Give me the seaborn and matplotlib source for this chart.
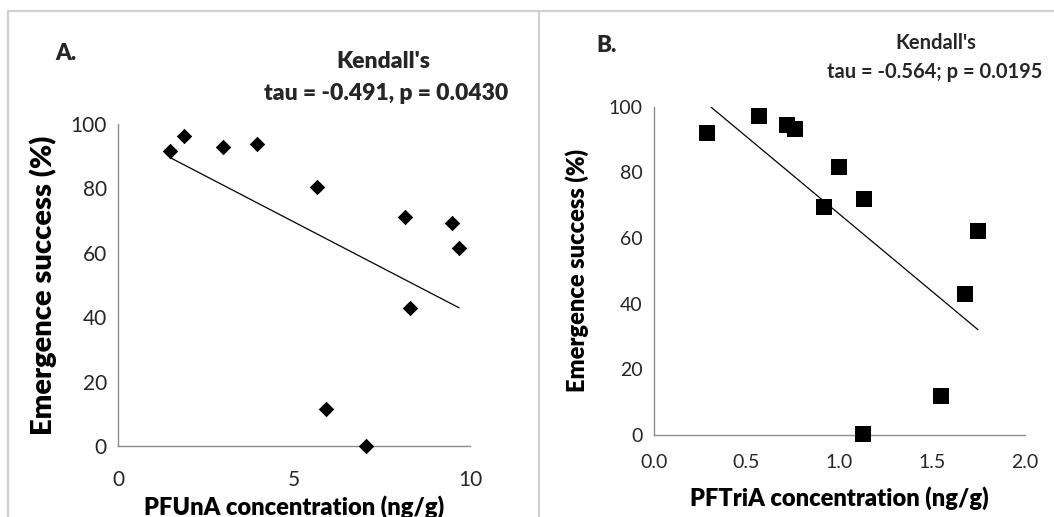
import matplotlib
matplotlib.use("Agg")
import matplotlib.pyplot as plt
import seaborn as sns
import pandas as pd

# Panel A: PFUnA concentration vs emergence success
pfuna_conc = [1.47, 1.88, 2.99, 3.94, 5.66, 5.90, 7.05, 8.15, 8.30, 9.48, 9.69]
pfuna_success = [91.7, 96.3, 92.8, 93.7, 80.3, 11.6, 0.0, 71.2, 42.8, 69.2, 61.6]

# Panel B: PFTriA concentration vs emergence success
pftria_conc = [0.287, 0.569, 0.716, 0.759, 0.919, 0.996, 1.129, 1.135, 1.546, 1.677, 1.747]
pftria_success = [92.1, 97.2, 94.4, 93.1, 69.5, 81.7, 0.3, 72.0, 12.0, 43.1, 62.1]

df_a = pd.DataFrame({'conc': pfuna_conc, 'success': pfuna_success})
df_b = pd.DataFrame({'conc': pftria_conc, 'success': pftria_success})

sns.set_style('white')
plt.rcParams['font.family'] = ['Lato', 'DejaVu Sans']

axis_grey = '#8c8c8c'
text_col = '#262626'
heavy = 'heavy'

fig = plt.figure(figsize=(10.54, 5.17), dpi=100)

# light frame lines around the panels
frame = dict(color='#d0d0d0', lw=1.6, transform=fig.transFigure, clip_on=False)
fig.add_artist(plt.Line2D([7.5 / 1054, 1.0], [1 - 11 / 517, 1 - 11 / 517], **frame))
fig.add_artist(plt.Line2D([7.5 / 1054, 7.5 / 1054], [0, 1 - 11 / 517], **frame))
fig.add_artist(plt.Line2D([539 / 1054, 539 / 1054], [0, 1 - 11 / 517], **frame))

ax_a = fig.add_axes([118 / 1054, 71 / 517, 352 / 1054, 322 / 517])
ax_b = fig.add_axes([653.7 / 1054, 82 / 517, 371.3 / 1054, 328.3 / 517])

sns.regplot(data=df_a, x='conc', y='success', ax=ax_a, ci=None, marker='D',
            scatter_kws={'s': 62, 'color': 'black', 'alpha': 1, 'linewidths': 0,
                         'clip_on': False, 'zorder': 3},
            line_kws={'color': 'black', 'lw': 0.9})
sns.regplot(data=df_b, x='conc', y='success', ax=ax_b, ci=None, marker='s',
            scatter_kws={'s': 120, 'color': 'black', 'alpha': 1, 'linewidths': 0,
                         'clip_on': False, 'zorder': 3},
            line_kws={'color': 'black', 'lw': 0.9})

ax_a.set_xlim(0, 10)
ax_a.set_xticks([0, 5, 10])
ax_b.set_xlim(0, 2.0)
ax_b.set_xticks([0.0, 0.5, 1.0, 1.5, 2.0])
ax_b.set_xticklabels(['0.0', '0.5', '1.0', '1.5', '2.0'])

for ax, tick_size, xpad in [(ax_a, 15, 12), (ax_b, 14, 9)]:
    ax.set_ylim(0, 100)
    ax.set_yticks([0, 20, 40, 60, 80, 100])
    for side in ['top', 'right']:
        ax.spines[side].set_visible(False)
    for side in ['left', 'bottom']:
        ax.spines[side].set_color(axis_grey)
        ax.spines[side].set_linewidth(1.0)
    ax.tick_params(axis='both', direction='out', length=5, width=1.0, color=axis_grey,
                   labelsize=tick_size, labelcolor=text_col, pad=3)
    ax.tick_params(axis='x', pad=xpad)
    ax.set_facecolor('white')

ax_a.set_xlabel('PFUnA concentration (ng/g)', fontsize=17, fontweight=heavy, color='black', labelpad=4)
ax_a.set_ylabel('Emergence success (%)', fontsize=21, fontweight=heavy, color='black', labelpad=10)
ax_b.set_xlabel('PFTriA concentration (ng/g)', fontsize=17, fontweight=heavy, color='black', labelpad=11)
ax_b.set_ylabel('Emergence success (%)', fontsize=17, fontweight=heavy, color='black', labelpad=14)

# panel letters and Kendall annotations
fig.text(55 / 1054, 1 - 53 / 517, 'A.', fontsize=16, fontweight=heavy, va='center', ha='left')
fig.text(383 / 1054, 1 - 62 / 517, "Kendall's", fontsize=16.5, fontweight=heavy, va='center', ha='center')
fig.text(508 / 1054, 1 - 93 / 517, 'tau = -0.491, p = 0.0430', fontsize=16.5, fontweight=heavy,
         va='center', ha='right')
fig.text(596 / 1054, 1 - 45 / 517, 'B.', fontsize=16, fontweight=heavy, va='center', ha='left')
fig.text(936 / 1054, 1 - 43 / 517, "Kendall's", fontsize=14.5, fontweight='bold', va='center', ha='center')
fig.text(1042 / 1054, 1 - 72 / 517, 'tau = -0.564; p = 0.0195', fontsize=14.5, fontweight='bold',
         va='center', ha='right')

fig.savefig('out.png', dpi=100, facecolor='white')
